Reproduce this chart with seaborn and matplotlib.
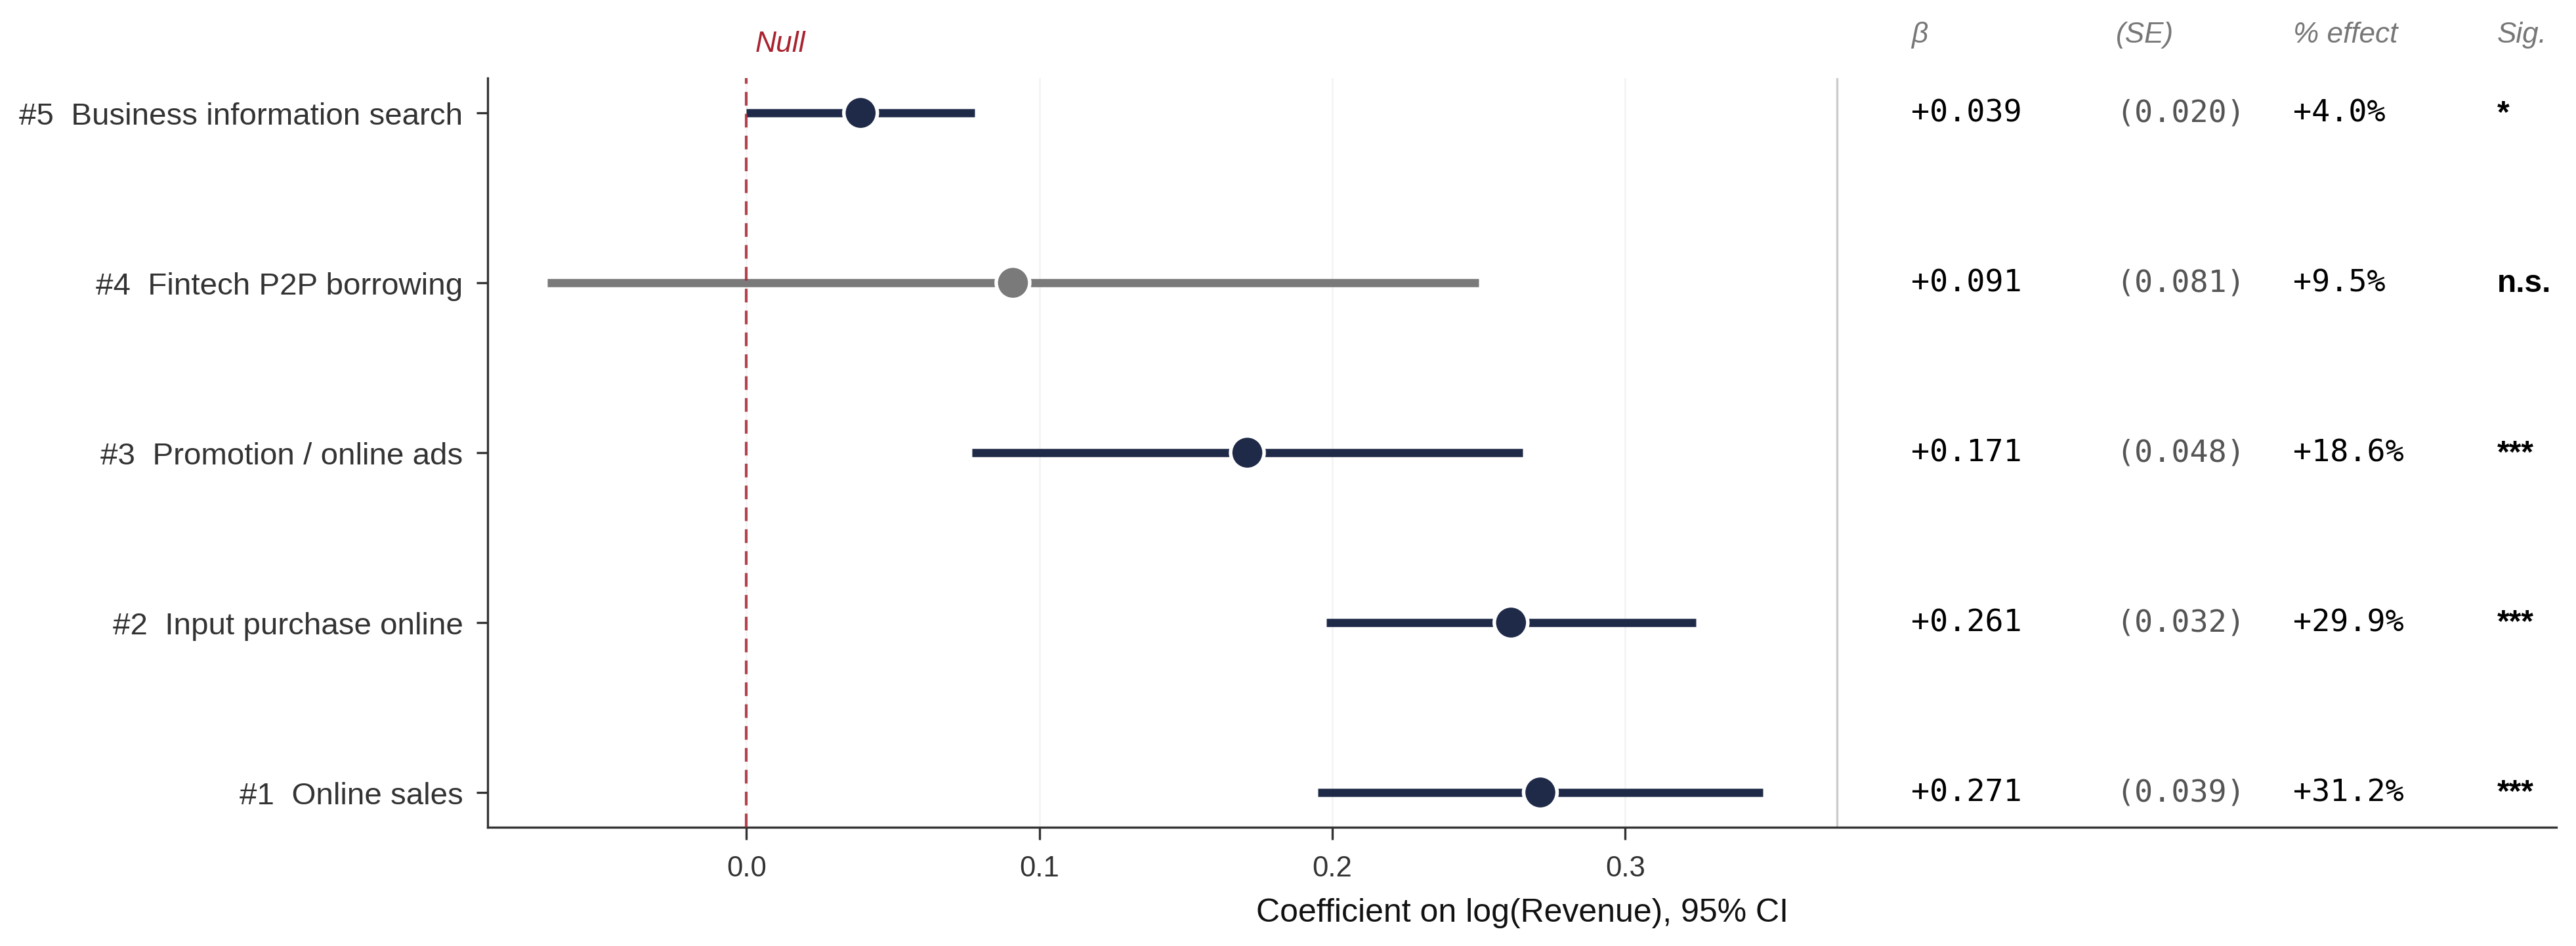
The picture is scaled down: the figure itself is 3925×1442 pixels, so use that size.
import numpy as np
import pandas as pd
import matplotlib
matplotlib.use("Agg")
import matplotlib.pyplot as plt
import matplotlib.transforms as mtransforms
import seaborn as sns

# rows, top to bottom
labels = ["#5  Business information search", "#4  Fintech P2P borrowing",
          "#3  Promotion / online ads", "#2  Input purchase online", "#1  Online sales"]
beta = [0.039, 0.091, 0.171, 0.261, 0.271]
se = [0.020, 0.081, 0.048, 0.032, 0.039]
ci_lo = [0.000, -0.068, 0.077, 0.198, 0.195]
ci_hi = [0.078, 0.250, 0.265, 0.324, 0.347]
pct = [4.0, 9.5, 18.6, 29.9, 31.2]
sig = ["*", "n.s.", "***", "***", "***"]

headers = ["\u03b2", "(SE)", "% effect", "Sig."]
xticks = [0.0, 0.1, 0.2, 0.3]

NAVY = "#1f2a48"
GREY = "#7a7a7a"
RED = "#a8232f"

sns.set_theme(style="ticks")
plt.rcParams["font.family"] = ["Liberation Sans", "DejaVu Sans"]
plt.rcParams["axes.edgecolor"] = "#333333"
plt.rcParams["xtick.color"] = "#333333"
plt.rcParams["ytick.color"] = "#333333"

df = pd.DataFrame(dict(label=labels, beta=beta, se=se, lo=ci_lo, hi=ci_hi,
                       pct=pct, sig=sig))
df["pos"] = np.arange(len(df))
df["kind"] = np.where(df["sig"] == "n.s.", "ns", "sig")
palette = {"sig": NAVY, "ns": GREY}

fig = plt.figure(figsize=(3925 / 300, 1443 / 300), dpi=300)
ax = fig.add_axes([0.1893, 0.1254, 0.8031, 0.7914])

# faint grid only over the numeric part
for t in xticks:
    ax.axvline(t, color="#f3f3f3", lw=0.6, zorder=0)

for _, r in df.iterrows():
    ax.hlines(r["pos"], r["lo"], r["hi"], color=palette[r["kind"]], lw=3, zorder=2)

ax.axvline(0, color=RED, lw=1.0, ls=(0, (5, 3)), alpha=0.85, zorder=3)

sns.scatterplot(data=df, x="beta", y="pos", hue="kind", palette=palette, s=150,
                edgecolor="white", linewidth=1.3, zorder=4, legend=False, ax=ax)

sep_x = 0.3723
ax.axvline(sep_x, color="#cccccc", lw=0.8, zorder=1)

ax.set_xlim(-0.0883, 0.6178)
ax.set_ylim(4.205, -0.205)
ax.set_xticks(xticks)
ax.set_xticklabels([f"{t:.1f}" for t in xticks], fontsize=10.5)
ax.set_yticks(df["pos"])
ax.set_yticklabels(labels, fontsize=11.4)
ax.tick_params(axis="x", length=4.5, width=0.8, pad=5.6)
ax.tick_params(axis="y", length=4, width=0.8, pad=5)
ax.set_xlabel("Coefficient on log(Revenue), 95% CI", fontsize=12, labelpad=5.8,
              color="#111111")
ax.set_ylabel("")
sns.despine(ax=ax)
for s in ["left", "bottom"]:
    ax.spines[s].set_linewidth(0.8)

# table columns
col_x = [0.3976, 0.4675, 0.528, 0.5975]
trans = mtransforms.blended_transform_factory(ax.transData, ax.transAxes)
for x, h in zip(col_x, headers):
    ax.text(x, 1.058, h, transform=trans, ha="left", va="center", fontsize=10.6,
            style="italic", color="#777777")

mono = ["DejaVu Sans Mono"]
for _, r in df.iterrows():
    y = r["pos"]
    ax.text(col_x[0], y, f"{r['beta']:+.3f}", family=mono, fontsize=11.2,
            ha="left", va="center", color="black")
    ax.text(col_x[1], y, f"({r['se']:.3f})", family=mono, fontsize=11.2,
            ha="left", va="center", color="#555555")
    ax.text(col_x[2], y, f"{r['pct']:+.1f}%", family=mono, fontsize=11.2,
            ha="left", va="center", color="black")
    ax.text(col_x[3], y, r["sig"], fontsize=11.5, fontweight="bold",
            ha="left", va="center", color="black")

ax.text(0.003, 1.046, "Null", transform=trans, ha="left", va="center",
        fontsize=10.7, style="italic", color=RED)

fig.savefig("out.png", dpi=300)
